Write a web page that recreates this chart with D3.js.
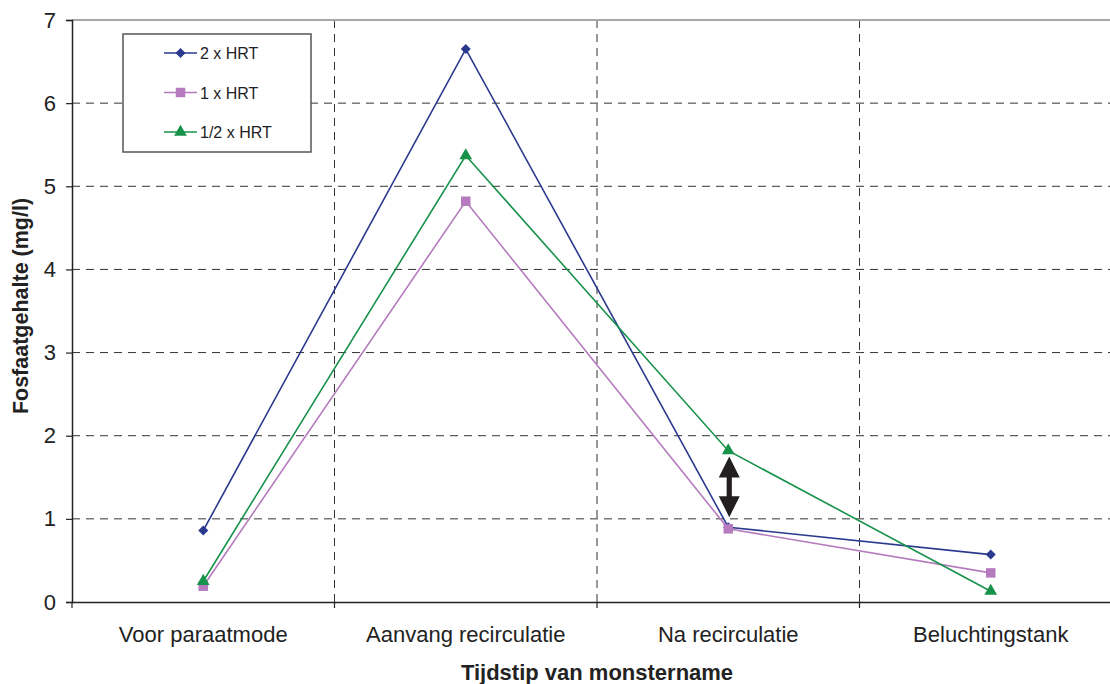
<!DOCTYPE html>
<html><head><meta charset="utf-8">
<script src="https://cdn.jsdelivr.net/npm/d3@7"></script>
<style>body{margin:0;background:#fff;} svg{display:block;font-family:"Liberation Sans",Arial,sans-serif;}</style>
</head><body>
<svg id="c" width="1110" height="684"></svg>
<script>
const categories = ["Voor paraatmode","Aanvang recirculatie","Na recirculatie","Beluchtingstank"];
const series2x = [0.86, 6.65, 0.90, 0.57];
const series1x = [0.19, 4.82, 0.88, 0.35];
const seriesHalf = [0.25, 5.37, 1.82, 0.13];
const seriesNames = ["2 x HRT","1 x HRT","1/2 x HRT"];
const yTicks = [0,1,2,3,4,5,6,7];
const arrowCategory = "Na recirculatie";
const arrowRange = [1.02, 1.75];

const series = [
  {name: seriesNames[0], values: series2x, color: "#2B3A8F", marker: "diamond"},
  {name: seriesNames[1], values: series1x, color: "#B57BBE", marker: "square"},
  {name: seriesNames[2], values: seriesHalf, color: "#17924A", marker: "triangle"}
];

const svg = d3.select("#c");
const m = {left: 72, top: 20, bottom: 602, right: 1122};
const x = d3.scaleBand().domain(categories).range([m.left, m.right]);
const y = d3.scaleLinear().domain([0,7]).range([m.bottom, m.top]);

// horizontal grid
svg.append("g").selectAll("line").data(yTicks.filter(d=>d>0 && d<7)).join("line")
  .attr("x1", m.left).attr("x2", m.right).attr("y1", d=>y(d)).attr("y2", d=>y(d))
  .attr("stroke","#333").attr("stroke-width",1).attr("stroke-dasharray","8,6");
// vertical grid
svg.append("g").selectAll("line").data(categories.slice(1)).join("line")
  .attr("x1", d=>x(d)).attr("x2", d=>x(d)).attr("y1", m.top).attr("y2", m.bottom)
  .attr("stroke","#333").attr("stroke-width",1).attr("stroke-dasharray","8,6");
// top border
svg.append("line").attr("x1",m.left).attr("x2",m.right).attr("y1",m.top).attr("y2",m.top)
  .attr("stroke","#a8a8a8").attr("stroke-width",2);

// y axis
const yAxis = svg.append("g").attr("transform",`translate(${m.left},0)`)
  .call(d3.axisLeft(y).tickValues(yTicks).tickSize(6).tickPadding(10).tickFormat(d3.format("d")));
yAxis.select(".domain").attr("stroke","#222").attr("stroke-width",1.5);
yAxis.selectAll(".tick line").attr("stroke","#222").attr("stroke-width",1.2);
yAxis.selectAll(".tick text").attr("font-size",22).attr("fill","#222").attr("font-family","Liberation Sans, Arial, sans-serif");

// x axis
const xAxis = svg.append("g").attr("transform",`translate(0,${m.bottom})`)
  .call(d3.axisBottom(x).tickSize(0).tickPadding(24));
xAxis.select(".domain").attr("stroke","#222").attr("stroke-width",1.5);
xAxis.selectAll(".tick text").attr("font-size",22).attr("fill","#222").attr("font-family","Liberation Sans, Arial, sans-serif");
// category boundary ticks
svg.append("g").selectAll("line").data(categories).join("line")
  .attr("x1", d=>x(d)).attr("x2", d=>x(d)).attr("y1", m.bottom).attr("y2", m.bottom+6)
  .attr("stroke","#222").attr("stroke-width",1.2);

// axis titles
svg.append("text").attr("x", 597).attr("y", 680).attr("text-anchor","middle")
  .attr("font-size",22).attr("font-weight","bold").attr("fill","#222").text("Tijdstip van monstername");
svg.append("text").attr("transform","translate(28,306) rotate(-90)").attr("text-anchor","middle")
  .attr("font-size",21.5).attr("font-weight","bold").attr("fill","#222").text("Fosfaatgehalte (mg/l)");

// lines and markers
const cx = d => x(d) + x.bandwidth()/2;
const line = d3.line().x((v,i)=>cx(categories[i])).y(v=>y(v));
function marker(g, type, color, px, py){
  if(type==="diamond"){
    g.append("path").attr("d", d3.symbol(d3.symbolSquare, 50)()).attr("transform",`translate(${px},${py}) rotate(45)`).attr("fill",color);
  } else if(type==="square"){
    g.append("path").attr("d", d3.symbol(d3.symbolSquare, 90)()).attr("transform",`translate(${px},${py})`).attr("fill",color);
  } else {
    g.append("path").attr("d", d3.symbol(d3.symbolTriangle, 70)()).attr("transform",`translate(${px},${py})`).attr("fill",color);
  }
}
series.forEach(s=>{
  const g = svg.append("g");
  g.append("path").attr("d", line(s.values)).attr("fill","none").attr("stroke",s.color).attr("stroke-width",1.6);
  s.values.forEach((v,i)=>marker(g, s.marker, s.color, cx(categories[i]), y(v)));
});

// double arrow
{
  const ax = cx(arrowCategory)+1;
  const yb = y(arrowRange[0]), yt = y(arrowRange[1]);
  const hh = 21, hw = 10.5, sw = 2.6;
  const p = `M${ax},${yt} L${ax+hw},${yt+hh} L${ax+sw},${yt+hh} L${ax+sw},${yb-hh} L${ax+hw},${yb-hh} L${ax},${yb} L${ax-hw},${yb-hh} L${ax-sw},${yb-hh} L${ax-sw},${yt+hh} L${ax-hw},${yt+hh} Z`;
  svg.append("path").attr("d",p).attr("fill","#231f20");
}

// legend
const lg = svg.append("g");
lg.append("rect").attr("x",123).attr("y",34).attr("width",188).attr("height",118)
  .attr("fill","#fff").attr("stroke","#555").attr("stroke-width",1.5);
series.forEach((s,i)=>{
  const ly = 53 + i*39.5;
  lg.append("line").attr("x1",164).attr("x2",197).attr("y1",ly).attr("y2",ly).attr("stroke",s.color).attr("stroke-width",1.6);
  marker(lg, s.marker, s.color, 180.5, ly);
  lg.append("text").attr("x",200).attr("y",ly+6).attr("font-size",16).attr("fill","#222").text(s.name);
});
</script>
</body></html>
